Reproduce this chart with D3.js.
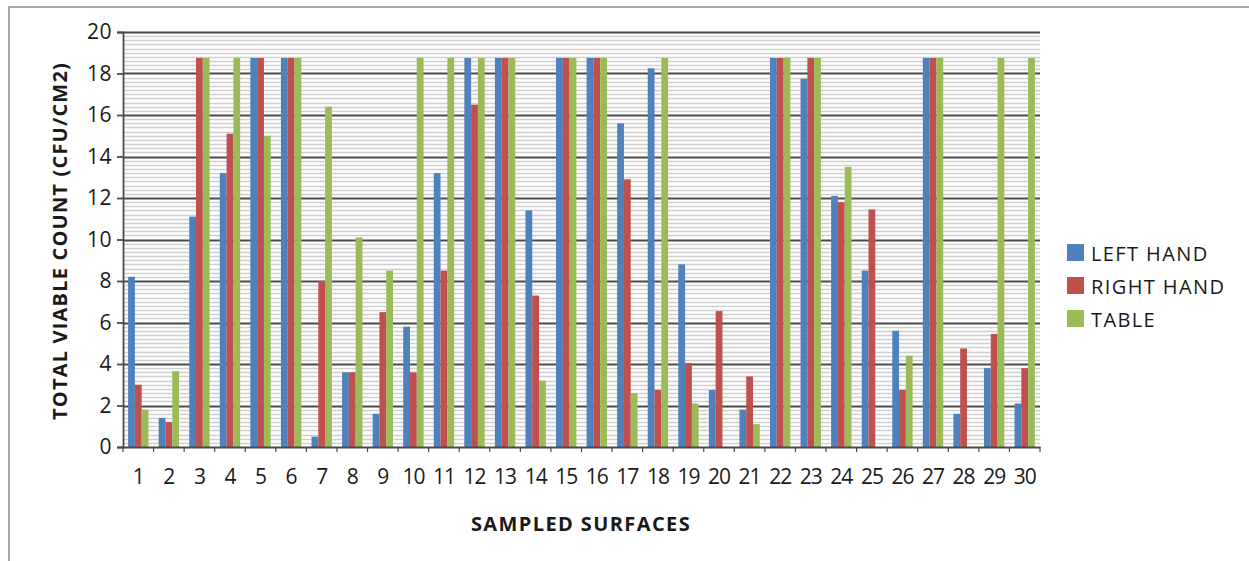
<!DOCTYPE html>
<html>
<head>
<meta charset="utf-8">
<script src="https://cdn.jsdelivr.net/npm/d3@7"></script>
<style>
  html, body { margin: 0; padding: 0; background: #fff; }
  svg { display: block; font-family: "Open Sans", "Liberation Sans", sans-serif; }
</style>
</head>
<body>
<svg id="chart" width="1249" height="561"></svg>
<script>
// Sampled surfaces 1..30
const categories = d3.range(1, 31).map(String);

// Series names and colours
const seriesNames = ["LEFT HAND", "RIGHT HAND", "TABLE"];
const seriesColors = ["#4F81BD", "#C0504D", "#9BBB59"];

// Total viable count (CFU/cm2) per surface
const leftHand = [8.2, 1.4, 11.1, 13.2, 18.75, 18.75, 0.5, 3.6, 1.6, 5.8,
                  13.2, 18.75, 18.75, 11.4, 18.75, 18.75, 15.6, 18.25, 8.8, 2.75,
                  1.8, 18.75, 17.75, 12.1, 8.5, 5.6, 18.75, 1.6, 3.8, 2.1];
const rightHand = [3.0, 1.2, 18.75, 15.1, 18.75, 18.75, 8.0, 3.6, 6.5, 3.6,
                   8.5, 16.5, 18.75, 7.3, 18.75, 18.75, 12.9, 2.75, 4.05, 6.55,
                   3.4, 18.75, 18.75, 11.8, 11.45, 2.75, 18.75, 4.75, 5.45, 3.8];
const table = [1.8, 3.65, 18.75, 18.75, 15.0, 18.75, 16.4, 10.1, 8.5, 18.75,
               18.75, 18.75, 18.75, 3.2, 18.75, 18.75, 2.6, 18.75, 2.1, 0,
               1.1, 18.75, 18.75, 13.5, 0, 4.4, 18.75, 0, 18.75, 18.75];

const yTicks = d3.range(0, 21, 2);
const yMinorTicks = d3.range(0, 20.01, 0.2);

const seriesValues = [leftHand, rightHand, table];

const svg = d3.select("#chart");

// Outer chart frame
svg.append("rect")
  .attr("x", 9).attr("y", 7)
  .attr("width", 1300).attr("height", 600)
  .attr("fill", "none")
  .attr("stroke", "#a6a6a6")
  .attr("stroke-width", 2);

const plot = { left: 123, right: 1040, top: 32, bottom: 447 };

const x = d3.scaleBand()
  .domain(categories)
  .range([plot.left, plot.right])
  .paddingInner(0).paddingOuter(0);

const xs = d3.scaleBand()
  .domain(seriesNames)
  .range([0, x.bandwidth()])
  .paddingInner(0).paddingOuter(0.75);

const y = d3.scaleLinear()
  .domain([0, 20])
  .range([plot.bottom, plot.top]);

// Minor gridlines
svg.append("g")
  .selectAll("line")
  .data(yMinorTicks.filter(v => Math.abs(v / 2 - Math.round(v / 2)) > 1e-6))
  .join("line")
  .attr("x1", plot.left).attr("x2", plot.right)
  .attr("y1", d => Math.round(y(d)) + 0.5)
  .attr("y2", d => Math.round(y(d)) + 0.5)
  .attr("stroke", "#cfcfcf")
  .attr("stroke-width", 1.6);

// Major gridlines
svg.append("g")
  .selectAll("line")
  .data(yTicks.filter(v => v > 0))
  .join("line")
  .attr("x1", plot.left).attr("x2", plot.right)
  .attr("y1", d => Math.round(y(d)) + 0.5)
  .attr("y2", d => Math.round(y(d)) + 0.5)
  .attr("stroke", "#4a4a4a")
  .attr("stroke-width", 1.8);

// Bars
const groups = svg.append("g")
  .selectAll("g")
  .data(seriesNames)
  .join("g")
  .attr("fill", (d, i) => seriesColors[i]);

groups.selectAll("rect")
  .data((name, si) => categories.map((c, ci) => ({ c, name, v: seriesValues[si][ci] })))
  .join("rect")
  .attr("x", d => x(d.c) + xs(d.name))
  .attr("width", xs.bandwidth())
  .attr("y", d => y(d.v))
  .attr("height", d => y(0) - y(d.v));

// Y axis
const yAxis = svg.append("g")
  .attr("transform", `translate(${plot.left},0)`)
  .call(d3.axisLeft(y).tickValues(yTicks).tickSize(6).tickPadding(5).tickFormat(d3.format("d")));
yAxis.select(".domain").attr("stroke", "#4a4a4a").attr("stroke-width", 1.8);
yAxis.selectAll(".tick line").attr("stroke", "#4a4a4a").attr("stroke-width", 1.8);
yAxis.selectAll("text").attr("font-size", 21).attr("fill", "#1a1a1a")
  .attr("font-family", "'Open Sans', sans-serif")
  .attr("letter-spacing", "0.5px");

// X axis
const xAxis = svg.append("g")
  .attr("transform", `translate(0,${plot.bottom})`)
  .call(d3.axisBottom(x).tickSize(0).tickPadding(22));
xAxis.select(".domain").attr("stroke", "#4a4a4a").attr("stroke-width", 1.8);
xAxis.selectAll("text").attr("font-size", 21).attr("fill", "#1a1a1a")
  .attr("font-family", "'Open Sans', sans-serif")
  .attr("letter-spacing", "-1px");

// Category boundary ticks
svg.append("g")
  .selectAll("line")
  .data(categories.concat(["end"]))
  .join("line")
  .attr("x1", (d, i) => plot.left + i * x.step())
  .attr("x2", (d, i) => plot.left + i * x.step())
  .attr("y1", plot.bottom).attr("y2", plot.bottom + 5)
  .attr("stroke", "#4a4a4a").attr("stroke-width", 1.2);

// Axis titles
svg.append("text")
  .attr("transform", "translate(67,241) rotate(-90)")
  .attr("text-anchor", "middle")
  .attr("font-size", 20)
  .attr("font-weight", "bold")
  .attr("letter-spacing", "1.2px")
  .attr("fill", "#1a1a1a")
  .text("TOTAL VIABLE COUNT (CFU/CM2)");

svg.append("text")
  .attr("x", 581).attr("y", 531)
  .attr("text-anchor", "middle")
  .attr("font-size", 20)
  .attr("font-weight", "bold")
  .attr("letter-spacing", "1.4px")
  .attr("fill", "#1a1a1a")
  .text("SAMPLED SURFACES");

// Legend
const legend = svg.append("g")
  .selectAll("g")
  .data(seriesNames)
  .join("g")
  .attr("transform", (d, i) => `translate(1067,${253 + i * 33})`);

legend.append("rect")
  .attr("x", 0).attr("y", -9)
  .attr("width", 17).attr("height", 17)
  .attr("fill", (d, i) => seriesColors[i]);

legend.append("text")
  .attr("x", 24).attr("y", 7.5)
  .attr("font-size", 20)
  .attr("letter-spacing", "1.4px")
  .attr("fill", "#1a1a1a")
  .text(d => d);
</script>
</body>
</html>
